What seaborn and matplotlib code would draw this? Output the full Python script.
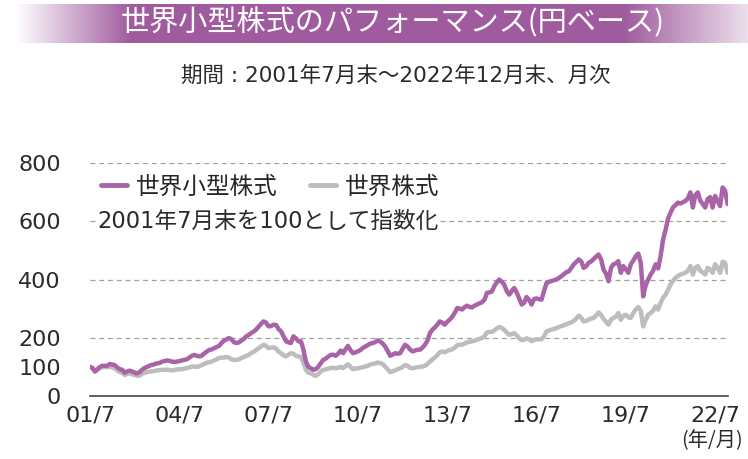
import numpy as np
import pandas as pd
import seaborn as sns
import matplotlib.pyplot as plt
from matplotlib.lines import Line2D

# 世界小型株式 (円ベース, 2001/7末=100), monthly 2001/7 - 2022/12
small_cap = [
    100, 96, 84, 92, 100, 104,                                   # 2001
    103, 104, 110, 108, 106, 98, 92, 90, 80, 84, 87, 84,         # 2002
    80, 78, 82, 90, 96, 100, 104, 107, 109, 112, 113, 118,       # 2003
    120, 122, 121, 118, 117, 118, 120, 122, 124, 126, 132, 138,  # 2004
    141, 138, 136, 138, 146, 152, 158, 160, 164, 168, 172, 182,  # 2005
    190, 194, 199, 195, 185, 182, 184, 190, 196, 205, 210, 216,  # 2006
    222, 228, 238, 248, 256, 252, 239, 240, 245, 244, 230, 222,  # 2007
    205, 188, 184, 182, 205, 198, 188, 188, 160, 118, 100, 95,   # 2008
    90, 92, 100, 112, 124, 128, 135, 141, 142, 138, 145, 156,    # 2009
    147, 160, 172, 158, 147, 150, 153, 158, 165, 170, 175, 180,  # 2010
    182, 185, 191, 187, 180, 170, 155, 138, 142, 147, 145, 147,  # 2011
    162, 176, 170, 160, 153, 156, 159, 159, 166, 176, 190, 216,  # 2012
    228, 235, 245, 256, 252, 245, 255, 262, 272, 285, 302, 300,  # 2013
    297, 305, 310, 306, 304, 310, 314, 318, 322, 330, 354, 356,  # 2014
    359, 377, 390, 400, 392, 383, 360, 348, 360, 371, 356, 335,  # 2015
    314, 320, 340, 330, 314, 333, 335, 332, 331, 360, 388, 392,  # 2016
    395, 397, 400, 405, 411, 418, 425, 428, 440, 452, 460, 469,  # 2017
    462, 440, 445, 457, 462, 470, 478, 486, 470, 434, 420, 394,  # 2018
    440, 452, 455, 463, 423, 446, 435, 423, 452, 465, 480, 489,  # 2019
    457, 342, 380, 400, 417, 430, 452, 438, 480, 538, 570, 610,  # 2020
    630, 647, 655, 664, 661, 665, 670, 678, 699, 647, 690, 699,  # 2021
    670, 660, 647, 676, 683, 647, 687, 670, 652, 716, 705, 659,  # 2022
]

# 世界株式 (円ベース, 2001/7末=100)
world = [
    100, 95, 85, 90, 96, 100,                                    # 2001
    100, 99, 101, 98, 95, 88, 82, 80, 72, 76, 78, 74,            # 2002
    72, 69, 70, 76, 80, 82, 84, 84, 86, 88, 89, 90,              # 2003
    90, 90, 89, 88, 89, 91, 92, 92, 94, 96, 98, 101,             # 2004
    101, 100, 102, 106, 110, 114, 116, 118, 122, 126, 130, 132,  # 2005
    132, 134, 132, 126, 124, 124, 126, 130, 134, 138, 141, 148,  # 2006
    152, 158, 164, 170, 176, 172, 164, 166, 167, 163, 152, 147,  # 2007
    140, 136, 142, 147, 145, 138, 136, 134, 115, 90, 80, 78,     # 2008
    72, 69, 75, 84, 90, 91, 94, 96, 97, 95, 97, 100,             # 2009
    96, 102, 109, 100, 92, 94, 95, 97, 99, 101, 104, 108,        # 2010
    110, 112, 115, 113, 110, 101, 92, 82, 85, 88, 92, 95,        # 2011
    100, 106, 104, 97, 95, 97, 99, 100, 101, 104, 110, 118,      # 2012
    126, 132, 140, 150, 153, 150, 155, 158, 160, 166, 174, 176,  # 2013
    176, 180, 184, 186, 188, 190, 193, 196, 199, 205, 218, 220,  # 2014
    220, 225, 232, 237, 234, 227, 218, 210, 212, 216, 208, 198,  # 2015
    192, 193, 198, 195, 188, 192, 195, 194, 195, 205, 222, 225,  # 2016
    228, 230, 233, 237, 240, 243, 246, 250, 253, 258, 266, 276,  # 2017
    268, 256, 258, 262, 266, 268, 276, 287, 278, 264, 255, 245,  # 2018
    262, 268, 272, 285, 262, 275, 279, 270, 268, 285, 297, 305,  # 2019
    293, 239, 262, 279, 285, 293, 308, 297, 320, 337, 348, 365,  # 2020
    383, 395, 406, 412, 417, 420, 423, 430, 446, 417, 440, 446,  # 2021
    429, 425, 417, 440, 435, 423, 452, 440, 423, 461, 457, 423,  # 2022
]

series_names = ['世界小型株式', '世界株式']
tick_labels = ['01/7', '04/7', '07/7', '10/7', '13/7', '16/7', '19/7', '22/7']
y_ticks = [0, 100, 200, 400, 600, 800]

purple = '#a864a6'
grey = '#bdbdbd'
ink = '#2a2a2a'

months = pd.date_range('2001-07-31', periods=len(small_cap), freq='ME')
df = pd.DataFrame({
    'month': np.concatenate([months, months]),
    'value': small_cap + world,
    'series': [series_names[0]] * len(small_cap) + [series_names[1]] * len(world),
})

sns.set_theme(style='white')
plt.rcParams['font.family'] = ['Noto Sans CJK JP', 'DejaVu Sans']
# wide latin digits first, CJK glyphs from Noto
mixed = ['DejaVu Sans', 'Noto Sans CJK JP']

W, H = 748, 459
fig = plt.figure(figsize=(W / 100, H / 100), dpi=100)

# title banner with faded ends
band = fig.add_axes([0, 1 - 43 / H, 1, 39 / H])
xs = np.linspace(0, W, 400)
alpha = np.interp(xs, [15, 130, 625, 748], [0, 1, 1, 0.2])
rgba = np.zeros((1, len(xs), 4))
rgba[..., :3] = [0.63, 0.36, 0.62]
rgba[..., 3] = alpha
band.imshow(rgba, aspect='auto', extent=[0, W, 0, 1])
band.set_axis_off()
band.text(393, 0.5, '世界小型株式のパフォーマンス(円ベース)', color='white',
          fontsize=21, ha='center', va='center')

fig.text(396 / W, 1 - 76 / H, '期間 : 2001年7月末～2022年12月末、月次',
         fontsize=15.5, ha='center', va='center', color=ink, family=mixed)

ax = fig.add_axes([90 / W, 63 / H, 638 / W, 233 / H])
sns.lineplot(data=df, x='month', y='value', hue='series', hue_order=series_names[::-1],
             palette={series_names[0]: purple, series_names[1]: grey},
             linewidth=3.2, legend=False, ax=ax)

ax.set_ylim(0, 800)
ax.set_xlim(months[0], months[-1] + pd.Timedelta(days=5))
ax.set_yticks(y_ticks)
ax.set_yticklabels([str(v) for v in y_ticks], fontsize=16, color=ink, family='DejaVu Sans')
tick_dates = [months[i * 36] for i in range(len(tick_labels))]
ax.set_xticks(tick_dates)
ax.set_xticklabels(tick_labels, fontsize=16, color=ink, family='DejaVu Sans')
ax.set_xlabel('')
ax.set_ylabel('')

for v in [200, 400, 600, 800]:
    ax.axhline(v, color='#a0a0a0', linestyle=(0, (4, 3)), linewidth=0.9, zorder=0)

for s in ['top', 'right', 'left']:
    ax.spines[s].set_visible(False)
ax.spines['bottom'].set_color('#444444')
ax.spines['bottom'].set_linewidth(1.2)
ax.tick_params(axis='x', direction='in', length=6, width=1.2, color='#444444', pad=7)
ax.tick_params(axis='y', length=0, pad=21)
ax.grid(False)

handles = [Line2D([], [], color=purple, linewidth=3.5),
           Line2D([], [], color=grey, linewidth=3.5)]
fig.legend(handles, series_names, loc='center left', bbox_to_anchor=(80 / W, 1 - 187 / H),
           ncol=2, frameon=False, fontsize=17, handlelength=1.1, handletextpad=0.35,
           columnspacing=1.4)

fig.text(97 / W, 1 - 221 / H, '2001年7月末を100として指数化', fontsize=16.3,
         ha='left', va='center', color=ink, family=mixed,
         bbox=dict(facecolor='white', edgecolor='none', pad=1))

fig.text(712 / W, 1 - 441 / H, '(年/月)', fontsize=14.5, ha='center', va='center',
         color=ink)

fig.savefig('out.png', dpi=100)
